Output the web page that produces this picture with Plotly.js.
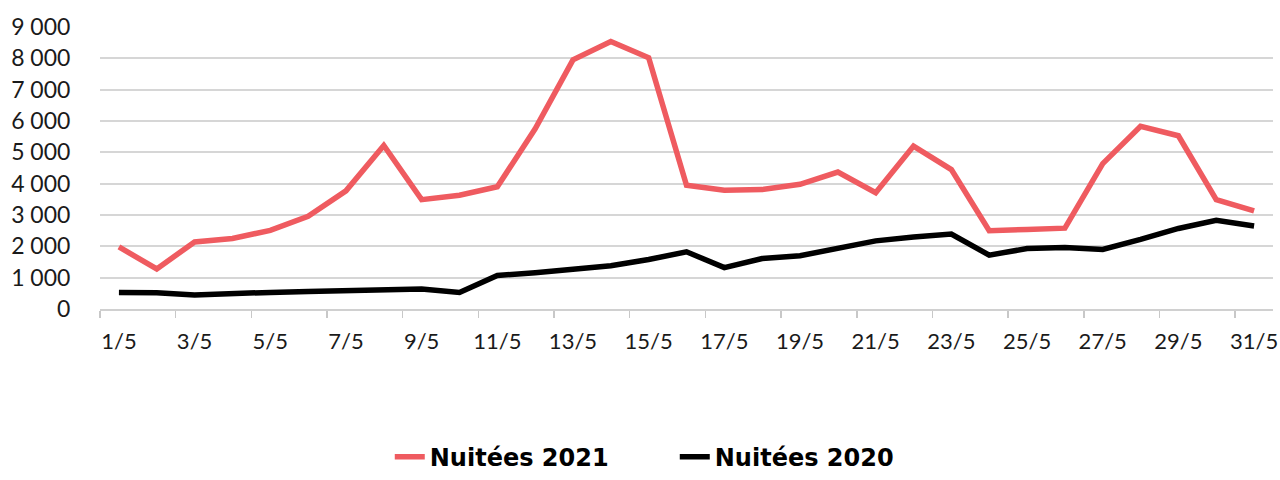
<!DOCTYPE html>
<html>
<head>
<meta charset="utf-8">
<script src="https://cdn.plot.ly/plotly-3.0.1.min.js"></script>
<style>html,body{margin:0;padding:0;background:#fff;}#chart{width:1280px;height:480px;}</style>
</head>
<body>
<div id="chart"></div>
<script>
const days = [1,2,3,4,5,6,7,8,9,10,11,12,13,14,15,16,17,18,19,20,21,22,23,24,25,26,27,28,29,30,31];
const nuitees2021 = [1980,1280,2140,2250,2510,2960,3770,5220,3490,3630,3900,5750,7950,8540,8020,3950,3790,3810,3980,4370,3710,5200,4450,2500,2540,2580,4640,5830,5530,3490,3130];
const nuitees2020 = [530,520,450,470,530,555,585,575,635,530,1070,1160,1260,1380,1580,1825,1320,1610,1700,1930,2175,2300,2390,1720,1930,1965,1900,2220,2570,2830,2650];
const yTickVals = [0,1000,2000,3000,4000,5000,6000,7000,8000,9000];
const yTickText = ["0","1 000","2 000","3 000","4 000","5 000","6 000","7 000","8 000","9 000"];

const labelDays = days.filter(d => d % 2 === 1);
const labelText = labelDays.map(d => d + "/5");
const boundaryTicks = labelDays.map(d => d - 0.5);

const traces = [
  {x: days, y: nuitees2021, type: 'scatter', mode: 'lines', name: 'Nuitées 2021',
   line: {color: '#EF5B60', width: 5.5}},
  {x: days, y: nuitees2020, type: 'scatter', mode: 'lines', name: 'Nuitées 2020',
   line: {color: '#000000', width: 5.5}}
];

const layout = {
  width: 1280, height: 480,
  paper_bgcolor: '#fff', plot_bgcolor: '#fff',
  margin: {l: 100, r: 7, t: 27, b: 171, autoexpand: false},
  font: {family: 'Lato, "Open Sans", sans-serif', color: '#1a1a1a'},
  showlegend: true,
  legend: {orientation: 'h', x: 0.49, xanchor: 'center', y: -0.605, yanchor: 'bottom',
    font: {family: '"DejaVu Sans", sans-serif', size: 24, color: '#000', weight: 'bold'},
    itemwidth: 30, tracegroupgap: 0, entrywidth: 240, entrywidthmode: 'pixels'},
  xaxis: {
    range: [0.5, 31.5], fixedrange: true,
    tickmode: 'array', tickvals: labelDays, ticktext: labelText,
    ticks: 'outside', ticklen: 12, tickcolor: 'rgba(0,0,0,0)',
    tickfont: {size: 22, color: '#1a1a1a'},
    showgrid: false, zeroline: false,
    showline: true, linecolor: '#d0d0d0', linewidth: 2,
    minor: {tickmode: 'array', tickvals: boundaryTicks, ticks: 'outside', ticklen: 7, tickwidth: 1.5, tickcolor: '#c8c8c8', showgrid: false}
  },
  yaxis: {
    range: [0, 9000], fixedrange: true,
    tickmode: 'array', tickvals: yTickVals, ticktext: yTickText,
    ticks: 'outside', ticklen: 24, tickcolor: 'rgba(0,0,0,0)',
    tickfont: {size: 23, color: '#1a1a1a'},
    showgrid: true, gridcolor: '#d6d6d6', gridwidth: 2,
    zeroline: false, showline: false
  }
};

Plotly.newPlot('chart', traces, layout, {displayModeBar: false, staticPlot: true});
</script>
</body>
</html>
